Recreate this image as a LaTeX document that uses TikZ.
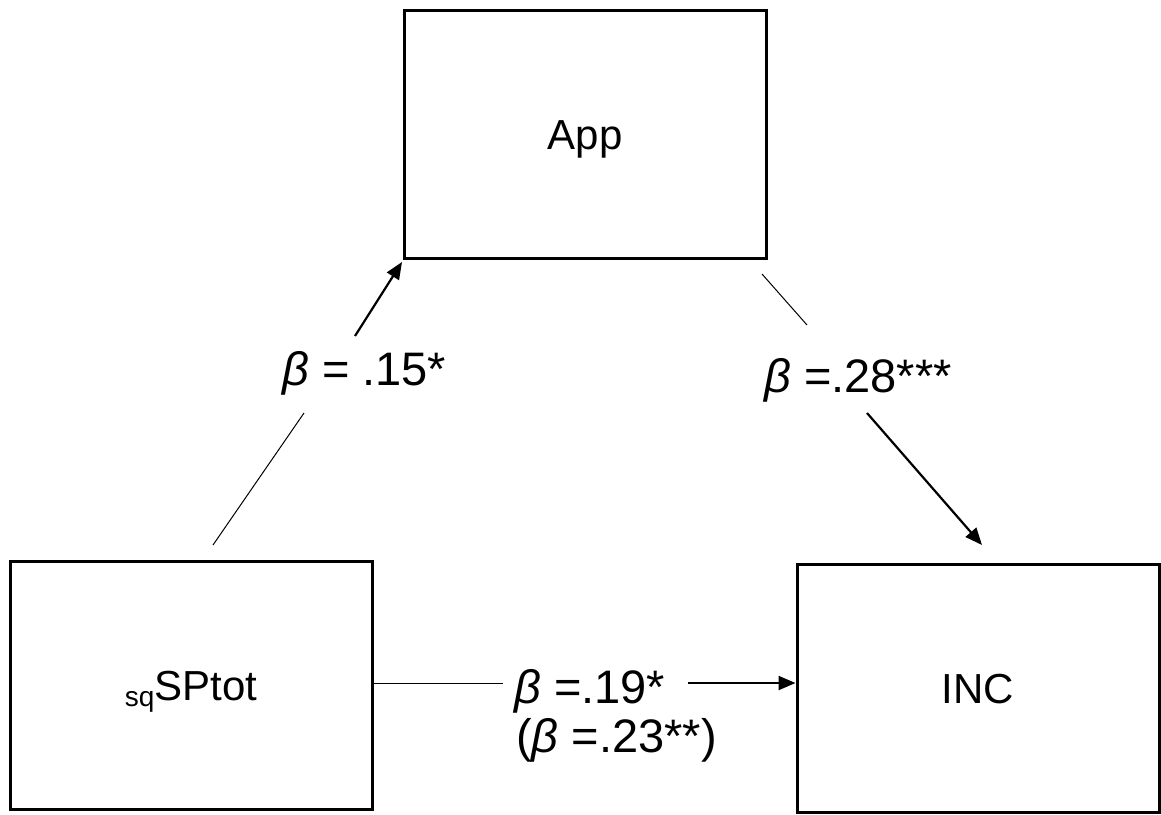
\documentclass[tikz,border=0pt]{standalone}
\usepackage{fontspec}
\setmainfont{Liberation Sans}
\usetikzlibrary{arrows.meta}
\begin{document}
\begin{tikzpicture}[x=1pt,y=-1pt,
  var/.style={draw=black, line width=3pt, minimum width=362pt, minimum height=248pt,
    inner sep=0pt, font=\fontsize{42}{42}\selectfont, text height=30pt, text depth=0pt},
  coef/.style={anchor=base west, inner sep=0pt, font=\fontsize{47}{47}\selectfont},
  link/.style={line width=1pt},
  effect/.style={line width=2.2pt, -{Triangle[length=17pt,width=14pt]}}
]
\useasboundingbox (0,0) rectangle (1161,814);

% the three variables
\node[var] (app) at (585,134) {App};
\node[var] (sp)  at (191,685.5) {\raisebox{-6pt}{\fontsize{28}{28}\selectfont sq}SPtot};
\node[var] (inc) at (978,688.5) {INC};

% path coefficients
\node[coef] (a)  at (282,385) {\textit{β} = .15*};
\node[coef] (b)  at (764,392) {\textit{β} =.28***};
\node[coef] (c)  at (514,703) {\textit{β} =.19*};
\node[coef] (c2) at (516,752) {(\textit{β} =.23**)};

% free ends of the connector pieces
\coordinate (a1) at (213,545);
\coordinate (a2) at (304,413);
\coordinate (a3) at (355,336);
\coordinate (a4) at (402,262);
\coordinate (b1) at (762,274);
\coordinate (b2) at (807,325);
\coordinate (b3) at (867,413);
\coordinate (b4) at (982,545);
\coordinate (c1) at (503,683);
\coordinate (c3) at (688,683);

% sqSPtot -> App
\draw[link] (a1) -- (a2);
\draw[effect] (a3) -- (a4);
% App -> INC
\draw[link] (b1) -- (b2);
\draw[effect] (b3) -- (b4);
% sqSPtot -> INC
\draw[link] (sp.east |- c1) -- (c1);
\draw[effect] (c3) -- (inc.west |- c3);
\end{tikzpicture}
\end{document}
